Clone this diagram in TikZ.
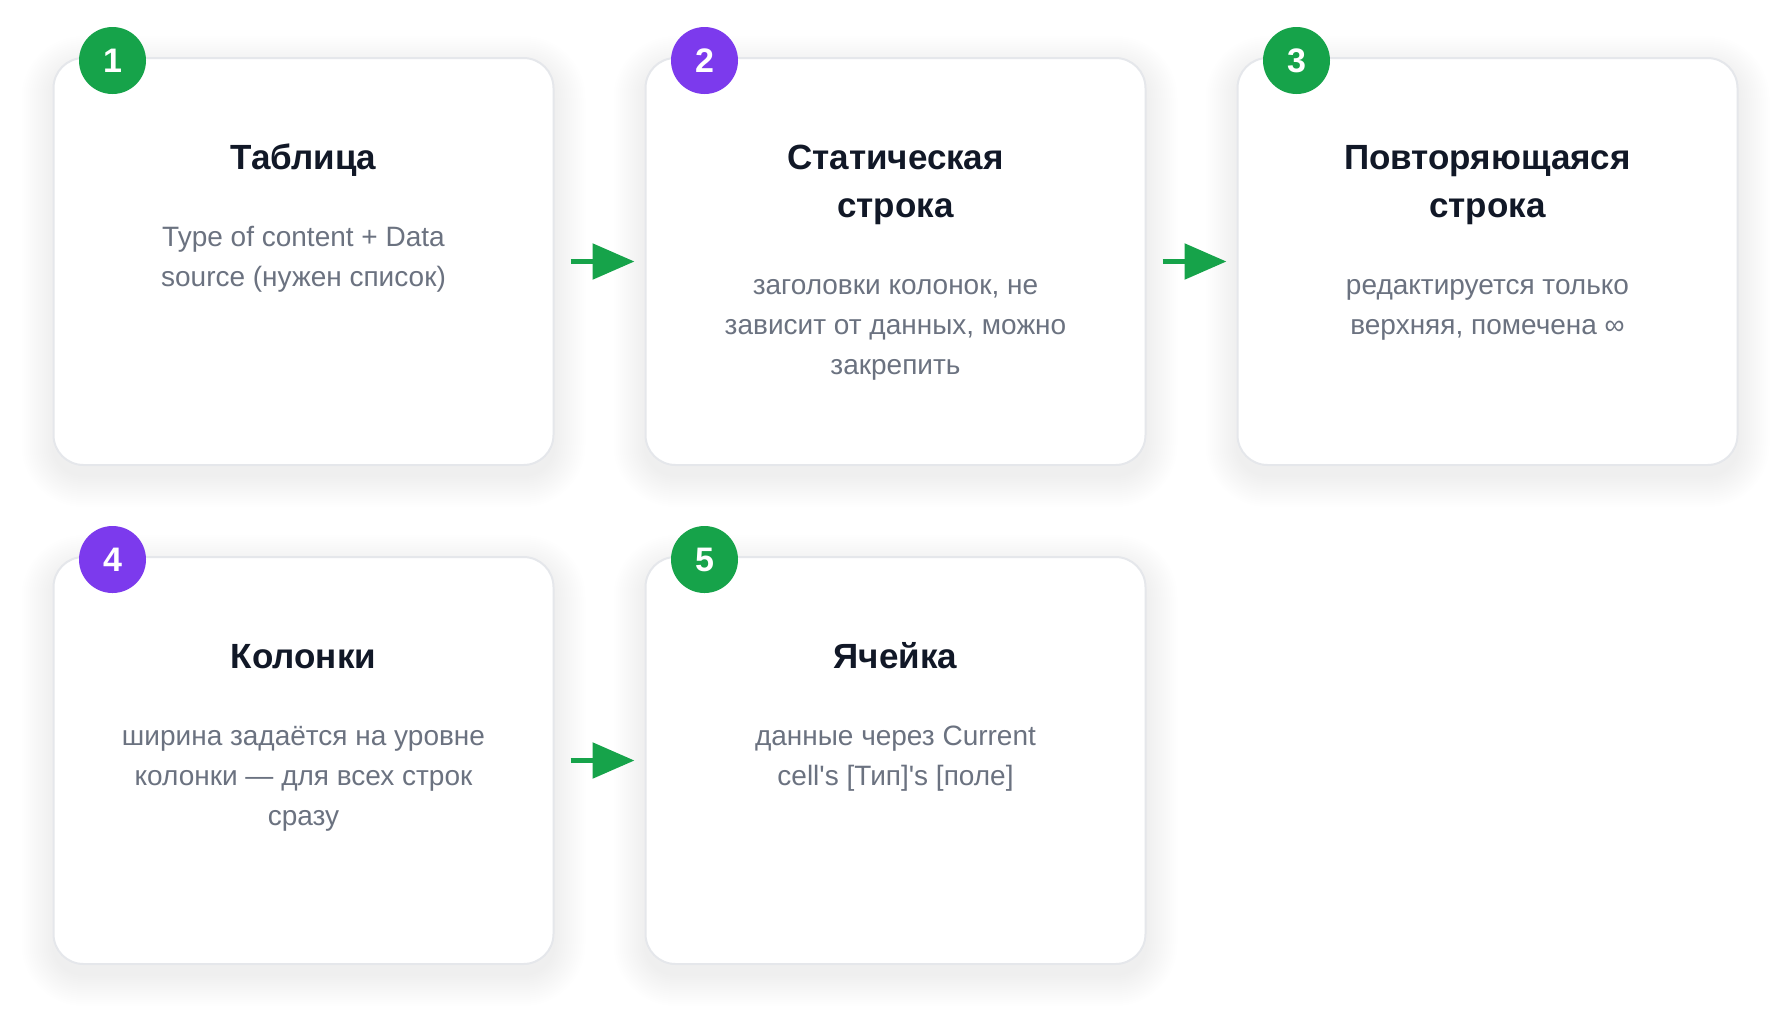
\documentclass[tikz,border=0pt]{standalone}
\usepackage{fontspec}
\setmainfont{Liberation Sans}
\usetikzlibrary{positioning,arrows.meta}
\definecolor{stepgreen}{HTML}{16A34A}
\definecolor{steppurple}{HTML}{7C3AED}
\definecolor{cardline}{HTML}{E5E7EB}
\definecolor{titleink}{HTML}{111827}
\definecolor{bodyink}{HTML}{6B7280}
\begin{document}
\begin{tikzpicture}
\def\cardw{250pt}
\def\cardh{203.5pt}
\tikzset{card/.style={draw=cardline,line width=1pt,fill=white,rounded corners=15pt,
  minimum width=\cardw,minimum height=\cardh,inner sep=0pt},
badge/.style={circle,fill=#1,minimum size=33.5pt,inner sep=0pt,text=white,
  font=\bfseries\fontsize{17}{20}\selectfont},
title/.style={anchor=north,align=center,inner sep=0pt,text=titleink,
  font=\bfseries\fontsize{17.5}{24}\selectfont},
body/.style={align=center,inner sep=0pt,text=bodyink,font=\fontsize{14}{20}\selectfont},
flow/.style={draw=stepgreen,line width=2.75pt,-{Triangle[length=21pt,width=17.5pt]}}}
\useasboundingbox (0,0) rectangle (895pt,-512.5pt);
% soft shadow under the cards
\foreach \cx/\cy in {151.75/-130.75,447.75/-130.75,743.75/-130.75,151.75/-380.25,447.75/-380.25}
  \foreach \s in {1,...,16}{
    \pgfmathsetmacro\rr{15+\s}
    \fill[black,opacity=0.0035,rounded corners=\rr pt]
      (\cx pt-125pt-\s pt,\cy pt+101.75pt+\s pt-5pt) rectangle (\cx pt+125pt+\s pt,\cy pt-101.75pt-\s pt-5pt);}
\node[card] at (151.75pt,-130.75pt) (C1) {};
\node[card] at (447.75pt,-130.75pt) (C2) {};
\node[card] at (743.75pt,-130.75pt) (C3) {};
\node[card] at (151.75pt,-380.25pt) (C4) {};
\node[card] at (447.75pt,-380.25pt) (C5) {};
\draw[flow] ([xshift=8pt]C1.east) -- ([xshift=-5pt]C2.west);
\draw[flow] ([xshift=8pt]C2.east) -- ([xshift=-5pt]C3.west);
\draw[flow] ([xshift=8pt]C4.east) -- ([xshift=-5pt]C5.west);
\node[badge=stepgreen] at ([xshift=30pt,yshift=-1.75pt]C1.north west) (N1) {1};
\node[badge=steppurple] at ([xshift=30pt,yshift=-1.75pt]C2.north west) (N2) {2};
\node[badge=stepgreen] at ([xshift=30pt,yshift=-1.75pt]C3.north west) (N3) {3};
\node[badge=steppurple] at ([xshift=30pt,yshift=-1.75pt]C4.north west) (N4) {4};
\node[badge=stepgreen] at ([xshift=30pt,yshift=-1.75pt]C5.north west) (N5) {5};
\node[title] at ([yshift=-39.2pt]C1.north) (T1) {\strut Таблица\strut};
\node[title] at ([yshift=-39.2pt]C2.north) (T2) {\strut Статическая\\строка\strut};
\node[title] at ([yshift=-39.2pt]C3.north) (T3) {\strut Повторяющаяся\\строка\strut};
\node[title] at ([yshift=-39.2pt]C4.north) (T4) {\strut Колонки\strut};
\node[title] at ([yshift=-39.2pt]C5.north) (T5) {\strut Ячейка\strut};
\node[body,below=16.8pt of T1] (D1) {\strut Type of content + Data\\source (нужен список)};
\node[body,below=16.8pt of T2] (D2) {\strut заголовки колонок, не\\зависит от данных, можно\\закрепить};
\node[body,below=16.8pt of T3] (D3) {\strut редактируется только\\верхняя, помечена ∞};
\node[body,below=16.8pt of T4] (D4) {\strut ширина задаётся на уровне\\колонки — для всех строк\\сразу};
\node[body,below=16.8pt of T5] (D5) {\strut данные через Current\\cell\textquotesingle s [Тип]\textquotesingle s [поле]};
\end{tikzpicture}
\end{document}
